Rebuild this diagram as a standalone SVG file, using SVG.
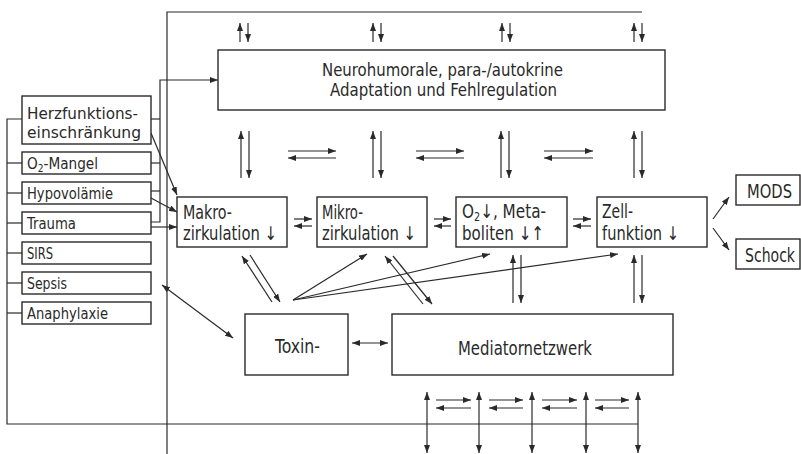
<svg xmlns="http://www.w3.org/2000/svg" width="801" height="454" viewBox="0 0 801 454">
<style>
.box{fill:#fff;stroke:#2a2a2a;stroke-width:1.4}
.ln{fill:none;stroke:#2a2a2a;stroke-width:1.2}
.a{fill:none;stroke:#2a2a2a;stroke-width:1.2;marker-end:url(#ah)}
.d{fill:none;stroke:#2a2a2a;stroke-width:1.2;marker-end:url(#ah);marker-start:url(#ah)}
text{font-family:"DejaVu Sans Condensed","DejaVu Sans","Liberation Sans",sans-serif;fill:#2a2a2a}
.s{font-size:16.5px}
.m{font-size:19px}
.n{font-size:18px}
</style>
<defs>
<marker id="ah" viewBox="0 0 8 6" refX="8" refY="3" markerWidth="8" markerHeight="6" markerUnits="userSpaceOnUse" orient="auto-start-reverse">
<path d="M0,0 L8,3 L0,6 z" fill="#2a2a2a"/>
</marker>
</defs>
<rect width="801" height="454" fill="#fff"/>

<g id="connectors">
<polyline class="ln" points="167,454 167,12 642,12"/>
<polyline class="ln" points="22,119 7,119 7,424 638,424"/>
<line class="ln" x1="7" y1="163" x2="22" y2="163"/>
<line class="ln" x1="7" y1="193" x2="22" y2="193"/>
<line class="ln" x1="7" y1="223" x2="22" y2="223"/>
<line class="ln" x1="7" y1="253" x2="22" y2="253"/>
<line class="ln" x1="7" y1="283" x2="22" y2="283"/>
<line class="ln" x1="7" y1="313" x2="22" y2="313"/>
<polyline class="a" points="151,222 160,222 160,80 218,80"/>
<line class="ln" x1="151" y1="119" x2="160" y2="119"/>
<line class="ln" x1="151" y1="163" x2="160" y2="163"/>
<line class="ln" x1="151" y1="191" x2="160" y2="191"/>
<line class="a" x1="151" y1="133" x2="177" y2="195"/>
<line class="a" x1="151" y1="198" x2="177" y2="212"/>
<line class="a" x1="151" y1="227" x2="177" y2="227"/>
<line class="a" x1="240" y1="42" x2="240" y2="23"/>
<line class="a" x1="248" y1="23" x2="248" y2="42"/>
<line class="a" x1="373" y1="42" x2="373" y2="23"/>
<line class="a" x1="381" y1="23" x2="381" y2="42"/>
<line class="a" x1="502" y1="42" x2="502" y2="23"/>
<line class="a" x1="510" y1="23" x2="510" y2="42"/>
<line class="a" x1="634" y1="42" x2="634" y2="23"/>
<line class="a" x1="642" y1="23" x2="642" y2="42"/>
<line class="a" x1="241" y1="178" x2="241" y2="131"/>
<line class="a" x1="249" y1="131" x2="249" y2="178"/>
<line class="a" x1="373" y1="178" x2="373" y2="131"/>
<line class="a" x1="381" y1="131" x2="381" y2="178"/>
<line class="a" x1="501" y1="178" x2="501" y2="131"/>
<line class="a" x1="509" y1="131" x2="509" y2="178"/>
<line class="a" x1="634" y1="178" x2="634" y2="131"/>
<line class="a" x1="642" y1="131" x2="642" y2="178"/>
<line class="a" x1="288" y1="151" x2="336" y2="151"/>
<line class="a" x1="336" y1="158" x2="288" y2="158"/>
<line class="a" x1="416" y1="151" x2="464" y2="151"/>
<line class="a" x1="464" y1="158" x2="416" y2="158"/>
<line class="a" x1="544" y1="151" x2="593" y2="151"/>
<line class="a" x1="593" y1="158" x2="544" y2="158"/>
<line class="a" x1="294" y1="219" x2="312" y2="219"/>
<line class="a" x1="312" y1="226" x2="294" y2="226"/>
<line class="a" x1="434" y1="219" x2="451" y2="219"/>
<line class="a" x1="451" y1="226" x2="434" y2="226"/>
<line class="a" x1="573" y1="219" x2="591" y2="219"/>
<line class="a" x1="591" y1="226" x2="573" y2="226"/>
<line class="a" x1="713" y1="219" x2="729" y2="197"/>
<line class="a" x1="713" y1="228" x2="729" y2="250"/>
<line class="a" x1="513" y1="303" x2="513" y2="255"/>
<line class="a" x1="521" y1="255" x2="521" y2="303"/>
<line class="a" x1="634" y1="303" x2="634" y2="255"/>
<line class="a" x1="642" y1="255" x2="642" y2="303"/>
<line class="a" x1="272" y1="302" x2="242" y2="256"/>
<line class="a" x1="250" y1="255" x2="280" y2="302"/>
<line class="a" x1="423" y1="304" x2="385" y2="256"/>
<line class="a" x1="393" y1="256" x2="432" y2="304"/>
<line class="a" x1="293" y1="300" x2="367" y2="254"/>
<line class="a" x1="293" y1="300" x2="490" y2="254"/>
<line class="a" x1="293" y1="300" x2="618" y2="254"/>
<line class="d" x1="162" y1="285" x2="233" y2="338"/>
<line class="d" x1="352" y1="343" x2="388" y2="343"/>
<line class="d" x1="427" y1="392" x2="427" y2="453"/>
<line class="d" x1="479" y1="392" x2="479" y2="453"/>
<line class="d" x1="532" y1="392" x2="532" y2="453"/>
<line class="d" x1="586" y1="392" x2="586" y2="453"/>
<line class="d" x1="638" y1="392" x2="638" y2="453"/>
<line class="a" x1="436" y1="400" x2="471" y2="400"/>
<line class="a" x1="471" y1="408" x2="436" y2="408"/>
<line class="a" x1="489" y1="400" x2="523" y2="400"/>
<line class="a" x1="523" y1="408" x2="489" y2="408"/>
<line class="a" x1="542" y1="400" x2="577" y2="400"/>
<line class="a" x1="577" y1="408" x2="542" y2="408"/>
<line class="a" x1="595" y1="400" x2="629" y2="400"/>
<line class="a" x1="629" y1="408" x2="595" y2="408"/>
</g>

<g id="neuro">
<rect class="box" x="218" y="50" width="447" height="60"/>
<text class="n" x="322" y="76" textLength="241" lengthAdjust="spacingAndGlyphs">Neurohumorale, para-/autokrine</text>
<text class="n" x="330" y="96" textLength="227" lengthAdjust="spacingAndGlyphs">Adaptation und Fehlregulation</text>
</g>

<g id="herz">
<rect class="box" x="22" y="96" width="129" height="48"/>
<text class="s" x="27" y="119" textLength="111" lengthAdjust="spacingAndGlyphs">Herzfunktions-</text>
<text class="s" x="27" y="138" textLength="114" lengthAdjust="spacingAndGlyphs">einschränkung</text>
</g>
<g id="o2mangel">
<rect class="box" x="22" y="152" width="129" height="22"/>
<text class="s" x="27" y="169" textLength="71" lengthAdjust="spacingAndGlyphs">O<tspan font-size="11" dy="3">2</tspan><tspan dy="-3">-Mangel</tspan></text>
</g>
<g id="hypovolaemie">
<rect class="box" x="22" y="182" width="129" height="22"/>
<text class="s" x="27" y="199" textLength="86" lengthAdjust="spacingAndGlyphs">Hypovolämie</text>
</g>
<g id="trauma">
<rect class="box" x="22" y="212" width="129" height="22"/>
<text class="s" x="27" y="229" textLength="49" lengthAdjust="spacingAndGlyphs">Trauma</text>
</g>
<g id="sirs">
<rect class="box" x="22" y="242" width="129" height="22"/>
<text class="s" x="27" y="259" textLength="26" lengthAdjust="spacingAndGlyphs">SIRS</text>
</g>
<g id="sepsis">
<rect class="box" x="22" y="272" width="129" height="22"/>
<text class="s" x="27" y="289" textLength="40" lengthAdjust="spacingAndGlyphs">Sepsis</text>
</g>
<g id="anaphylaxie">
<rect class="box" x="22" y="302" width="129" height="22"/>
<text class="s" x="27" y="319" textLength="81" lengthAdjust="spacingAndGlyphs">Anaphylaxie</text>
</g>

<g id="makro">
<rect class="box" x="177" y="197" width="110" height="50"/>
<text class="m" x="183" y="219" textLength="49" lengthAdjust="spacingAndGlyphs">Makro-</text>
<text class="m" x="183" y="240" textLength="94" lengthAdjust="spacingAndGlyphs">zirkulation ↓</text>
</g>
<g id="mikro">
<rect class="box" x="317" y="197" width="110" height="50"/>
<text class="m" x="322" y="219" textLength="41" lengthAdjust="spacingAndGlyphs">Mikro-</text>
<text class="m" x="322" y="240" textLength="94" lengthAdjust="spacingAndGlyphs">zirkulation ↓</text>
</g>
<g id="o2meta">
<rect class="box" x="456" y="197" width="111" height="50"/>
<text class="m" x="462" y="218" textLength="84" lengthAdjust="spacingAndGlyphs">O<tspan font-size="12" dy="3">2</tspan><tspan dy="-3">↓, Meta-</tspan></text>
<text class="m" x="462" y="240" textLength="82" lengthAdjust="spacingAndGlyphs">boliten ↓↑</text>
</g>
<g id="zell">
<rect class="box" x="597" y="197" width="110" height="50"/>
<text class="m" x="602" y="218" textLength="31" lengthAdjust="spacingAndGlyphs">Zell-</text>
<text class="m" x="602" y="240" textLength="77" lengthAdjust="spacingAndGlyphs">funktion ↓</text>
</g>
<g id="mods">
<rect class="box" x="736" y="175" width="64" height="30"/>
<text class="m" x="747" y="198" textLength="45" lengthAdjust="spacingAndGlyphs">MODS</text>
</g>
<g id="schock">
<rect class="box" x="736" y="239" width="64" height="30"/>
<text class="m" x="745" y="262" textLength="50" lengthAdjust="spacingAndGlyphs">Schock</text>
</g>
<g id="toxin">
<rect class="box" x="245" y="314" width="103" height="61"/>
<text class="m" x="275" y="353" textLength="45" lengthAdjust="spacingAndGlyphs">Toxin-</text>
</g>
<g id="mediator">
<rect class="box" x="392" y="314" width="281" height="61"/>
<text class="m" x="458" y="355" textLength="134" lengthAdjust="spacingAndGlyphs">Mediatornetzwerk</text>
</g>
</svg>
